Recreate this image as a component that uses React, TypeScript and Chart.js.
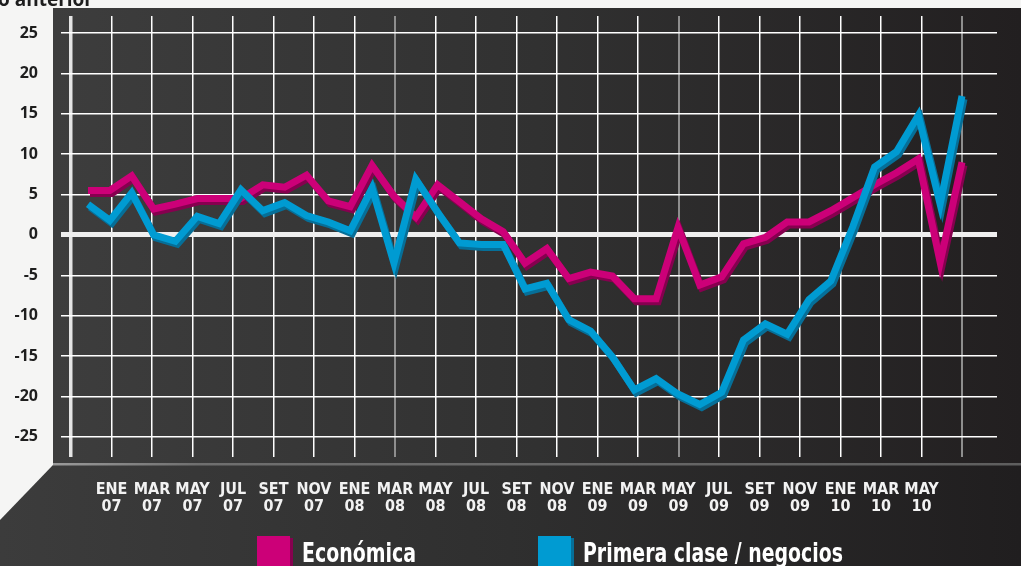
import React, { useEffect, useRef } from "react";
import { Chart, registerables } from "chart.js";

Chart.register(...registerables);

// Months of the data series (ENE 07 .. MAY 10)
const months = [
  "ENE 07", "FEB 07", "MAR 07", "ABR 07", "MAY 07", "JUN 07", "JUL 07", "AGO 07", "SET 07", "OCT 07", "NOV 07", "DIC 07",
  "ENE 08", "FEB 08", "MAR 08", "ABR 08", "MAY 08", "JUN 08", "JUL 08", "AGO 08", "SET 08", "OCT 08", "NOV 08", "DIC 08",
  "ENE 09", "FEB 09", "MAR 09", "ABR 09", "MAY 09", "JUN 09", "JUL 09", "AGO 09", "SET 09", "OCT 09", "NOV 09", "DIC 09",
  "ENE 10", "FEB 10", "MAR 10", "ABR 10", "MAY 10",
];

const economica = [
  5.5, 5.5, 7.3, 3.2, 3.8, 4.5, 4.5, 4.5, 6.2, 5.9, 7.4, 4.2,
  3.5, 8.6, 4.8, 2.2, 6.2, 4.1, 2.0, 0.4, -3.5, -1.7, -5.4, -4.6,
  -5.1, -7.9, -7.9, 0.9, -6.2, -5.2, -1.1, -0.3, 1.6, 1.6, 3.0, 4.6,
  6.2, 7.7, 9.4, -3.4, 9.0,
];

const primeraClase = [
  3.8, 1.8, 5.2, 0.0, -0.8, 2.3, 1.4, 5.6, 3.0, 4.0, 2.4, 1.6,
  0.5, 5.8, -3.5, 6.9, 2.8, -1.0, -1.2, -1.2, -6.7, -6.0, -10.5, -11.9,
  -15.1, -19.2, -17.8, -19.7, -21.0, -19.5, -13.0, -11.0, -12.3, -8.0, -5.7, 1.0,
  8.4, 10.3, 14.8, 3.8, 17.2,
];

const seriesNames = ["Económica", "Primera clase / negocios"];

const yTickValues = [-25, -20, -15, -10, -5, 0, 5, 10, 15, 20, 25];

// Labels of the bimonthly grid (grid runs NOV 06 .. JUL 10, labels ENE 07 .. MAY 10)
const xTickLabels = [
  "ENE 07", "MAR 07", "MAY 07", "JUL 07", "SET 07", "NOV 07",
  "ENE 08", "MAR 08", "MAY 08", "JUL 08", "SET 08", "NOV 08",
  "ENE 09", "MAR 09", "MAY 09", "JUL 09", "SET 09", "NOV 09",
  "ENE 10", "MAR 10", "MAY 10",
];

const PINK = "#cc0078";
const PINK_SHADOW = "#86004f";
const BLUE = "#009bd2";
const BLUE_SHADOW = "#066f98";

const NARROW = '"Liberation Sans Narrow", "DejaVu Sans Condensed", "Roboto", sans-serif';

const backgroundPlugin = {
  id: "bgPanel",
  beforeDraw(chart: any) {
    const { ctx, width, height } = chart;
    ctx.save();
    ctx.fillStyle = "#f5f5f4";
    ctx.fillRect(0, 0, width, height);
    // main panel
    const g = ctx.createLinearGradient(53, 0, width, 0);
    g.addColorStop(0, "#3d3d3d");
    g.addColorStop(0.5, "#313131");
    g.addColorStop(1, "#221f20");
    ctx.fillStyle = g;
    ctx.fillRect(53, 8, width - 53, 455);
    // floor
    const g2 = ctx.createLinearGradient(0, 0, width, 0);
    g2.addColorStop(0, "#3c3c3c");
    g2.addColorStop(0.5, "#2f2f2f");
    g2.addColorStop(1, "#201e1f");
    ctx.fillStyle = g2;
    ctx.beginPath();
    ctx.moveTo(53, 465);
    ctx.lineTo(width, 465);
    ctx.lineTo(width, height);
    ctx.lineTo(0, height);
    ctx.lineTo(0, 520);
    ctx.closePath();
    ctx.fill();
    // separator
    const g3 = ctx.createLinearGradient(53, 0, width, 0);
    g3.addColorStop(0, "#9a9a9a");
    g3.addColorStop(0.15, "#6f6f6f");
    g3.addColorStop(1, "#5e5e5e");
    ctx.fillStyle = g3;
    ctx.fillRect(53, 463, width - 53, 2.5);
    // title fragment (cut at top)
    ctx.fillStyle = "#1e1e1e";
    ctx.font = 'bold 19px "Open Sans", sans-serif';
    ctx.textAlign = "right";
    ctx.textBaseline = "alphabetic";
    ctx.fillText("año anterior", 93, 6);
    ctx.restore();
  },
};

const shadowPlugin = {
  id: "lineShadow",
  beforeDatasetDraw(chart: any, args: any) {
    const ds = chart.data.datasets[args.index];
    const ctx = chart.ctx;
    ctx.save();
    ctx.shadowColor = ds.shadowColor;
    ctx.shadowOffsetX = 2;
    ctx.shadowOffsetY = 3;
    ctx.shadowBlur = 0;
  },
  afterDatasetDraw(chart: any) {
    chart.ctx.restore();
  },
};

const legendBoxX = [257, 538];
const legendTextWidth = [114, 260];

const legendPlugin = {
  id: "legend3d",
  afterDraw(chart: any) {
    const ctx = chart.ctx;
    ctx.save();
    chart.data.datasets.forEach((ds: any, i: number) => {
      const bx = legendBoxX[i];
      const by = 536;
      ctx.fillStyle = ds.shadowColor;
      ctx.fillRect(bx + 3, by + 2, 33, 34);
      ctx.fillStyle = ds.borderColor;
      ctx.fillRect(bx, by, 33, 34);
      ctx.fillStyle = "#ffffff";
      ctx.font = "bold 26px " + NARROW;
      ctx.textAlign = "left";
      ctx.textBaseline = "alphabetic";
      const w = ctx.measureText(ds.label).width;
      ctx.fillText(ds.label, bx + 45, 562, Math.min(w, legendTextWidth[i]));
    });
    ctx.restore();
  },
};

export default function App() {
  const ref = useRef<HTMLCanvasElement>(null);

  useEffect(() => {
    document.body.style.margin = "0";
    const canvas = ref.current;
    if (!canvas) return;

    const toPoints = (arr: number[]) => arr.map((v, i) => ({ x: i, y: v }));
    const firstX = 88, lastX = 962, left = 71, right = 997;
    const unit = (lastX - firstX) / (months.length - 1);
    const gridUnit = (lastX - left) / 44; // one month of the label grid

    const chart = new Chart(canvas, {
      type: "line",
      data: {
        labels: months,
        datasets: [
          {
            label: seriesNames[0],
            data: toPoints(economica),
            borderColor: PINK,
            backgroundColor: PINK,
            shadowColor: PINK_SHADOW,
            borderWidth: 7,
            pointRadius: 0,
            tension: 0,
            borderJoinStyle: "miter",
            borderCapStyle: "butt",
            order: 1,
            xAxisID: "x",
          } as any,
          {
            label: seriesNames[1],
            data: toPoints(primeraClase),
            borderColor: BLUE,
            backgroundColor: BLUE,
            shadowColor: BLUE_SHADOW,
            borderWidth: 7,
            pointRadius: 0,
            tension: 0,
            borderJoinStyle: "miter",
            borderCapStyle: "butt",
            order: 0,
            xAxisID: "x",
          } as any,
        ],
      },
      options: {
        responsive: false,
        animation: false,
        devicePixelRatio: 1,
        layout: { padding: { top: 16, right: 24, bottom: 0, left: 0 } },
        plugins: {
          legend: { display: false },
          tooltip: { enabled: false },
        },
        scales: {
          x: {
            type: "linear",
            display: false,
            min: -(firstX - left) / unit,
            max: months.length - 1 + (right - lastX) / unit,
          },
          x2: {
            type: "linear",
            position: "bottom",
            min: 0,
            max: (right - left) / gridUnit,
            border: { display: false },
            afterBuildTicks: (axis: any) => {
              axis.ticks = Array.from({ length: xTickLabels.length + 2 }, (_, i) => ({ value: 2 * i }));
            },
            afterFit: (scale: any) => {
              scale.height = 109;
              scale.paddingLeft = 0;
              scale.paddingRight = 0;
            },
            grid: {
              drawTicks: false,
              color: (c: any) => {
                const v = c.tick ? c.tick.value : -1;
                if (v === 0) return "#e4e4e4";
                if (v === 16 || v === 30 || v === 44) return "#8e8e8e";
                return "#ffffff";
              },
              lineWidth: (c: any) => {
                const v = c.tick ? c.tick.value : -1;
                if (v === 0) return 3.5;
                if (v === 16 || v === 30 || v === 44) return 2;
                return 1.5;
              },
            },
            ticks: {
              autoSkip: false,
              maxRotation: 0,
              minRotation: 0,
              padding: 24,
              color: "#f2f2f2",
              font: { family: NARROW, weight: "bold", size: 16, lineHeight: 1.06 },
              callback: (value: any) => {
                const j = Math.round(value / 2) - 1;
                const l = xTickLabels[j];
                return l ? l.split(" ") : "";
              },
            },
          },
          y: {
            type: "linear",
            min: -27.5,
            max: 27.1,
            border: { display: false },
            afterBuildTicks: (axis: any) => {
              axis.ticks = yTickValues.map((v) => ({ value: v }));
            },
            afterFit: (scale: any) => {
              scale.width = 71;
              scale.paddingTop = 0;
              scale.paddingBottom = 0;
            },
            grid: {
              drawTicks: true,
              tickLength: 10,
              color: (c: any) => (c.tick && c.tick.value === 0 ? "#efefef" : "#ffffff"),
              lineWidth: (c: any) => (c.tick && c.tick.value === 0 ? 5 : 1.5),
            },
            ticks: {
              padding: 23,
              color: "#1e1e1e",
              font: { family: '"Open Sans", sans-serif', weight: "bold", size: 16 },
              callback: (value: any) => String(value),
            },
          },
        },
      } as any,
      plugins: [backgroundPlugin, shadowPlugin, legendPlugin],
    });

    return () => chart.destroy();
  }, []);

  return (
    <div style={{ width: 1021, height: 566, overflow: "hidden" }}>
      <canvas ref={ref} width={1021} height={566} style={{ display: "block", width: 1021, height: 566 }} />
    </div>
  );
}
